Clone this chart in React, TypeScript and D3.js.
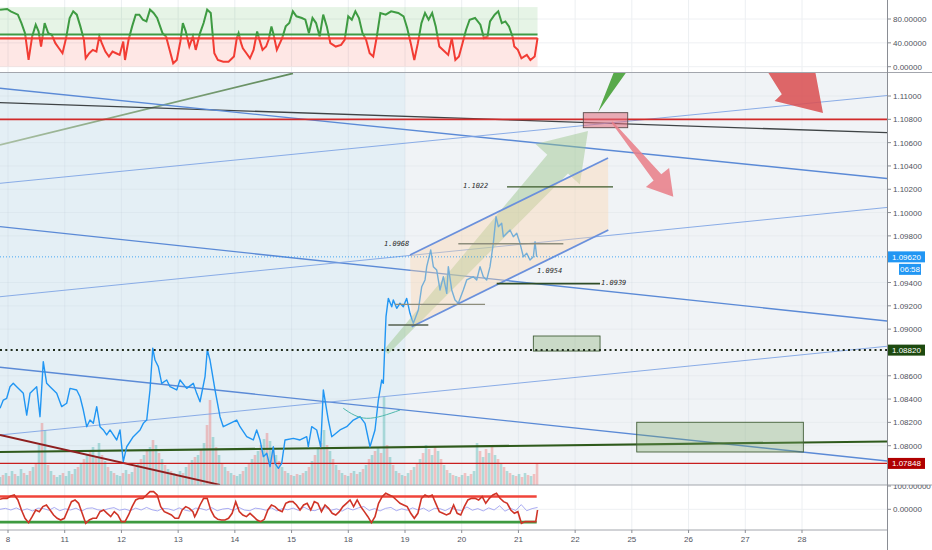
import React from 'react';
import * as d3 from 'd3';

// ---- time axis (trading-day index) ----
const dayLabels = ['8', '11', '12', '13', '14', '15', '18', '19', '20', '21', '22', '25', '26', '27', '28'];

// ---- price scale ----
const priceTicks = d3.range(17).map((i) => 1.078 + i * 0.002);
const topTicks = [0, 40, 80];
const bottomTicks = [0, 100];

const lastPrice = 1.0962;
const lastTimeLabel = '06:58';
const supportLevel = 1.0882;
const lowLevel = 1.07848;
const resistanceLevel = 1.108;
const sessionStart = 7.0;

// ---- price series [day, price] ----
const priceSeries: [number, number][] = [
  [-0.141, 1.08321], [-0.083, 1.08392], [-0.023, 1.08407], [0.035, 1.08506], [0.093, 1.08535], [0.153, 1.08506],
  [0.212, 1.08478], [0.27, 1.08449], [0.33, 1.08263], [0.388, 1.08449], [0.446, 1.08478], [0.506, 1.08506],
  [0.564, 1.08249], [0.622, 1.08721], [0.682, 1.08535], [0.741, 1.08506], [0.859, 1.08449], [0.947, 1.08335],
  [1.035, 1.08364], [1.093, 1.08492], [1.211, 1.08478], [1.27, 1.0842], [1.328, 1.08306], [1.388, 1.08163],
  [1.446, 1.0822], [1.504, 1.08192], [1.564, 1.08335], [1.622, 1.08163], [1.681, 1.08135], [1.74, 1.08092],
  [1.799, 1.08135], [1.917, 1.08049], [1.975, 1.08135], [2.033, 1.07863], [2.093, 1.07991], [2.209, 1.08077],
  [2.328, 1.08135], [2.386, 1.08192], [2.446, 1.0822], [2.504, 1.08478], [2.552, 1.08836], [2.592, 1.08735],
  [2.65, 1.08678], [2.71, 1.08535], [2.798, 1.08564], [2.857, 1.08506], [2.975, 1.08478], [3.033, 1.08564],
  [3.151, 1.08492], [3.267, 1.08535], [3.327, 1.08449], [3.386, 1.08377], [3.474, 1.08592], [3.514, 1.08821],
  [3.562, 1.08735], [3.65, 1.08478], [3.738, 1.08249], [3.796, 1.08163], [3.915, 1.08192], [4.033, 1.0822],
  [4.091, 1.08163], [4.209, 1.08077], [4.325, 1.08049], [4.385, 1.08135], [4.444, 1.08049], [4.502, 1.07906],
  [4.562, 1.07935], [4.62, 1.0782], [4.678, 1.07991], [4.708, 1.07849], [4.767, 1.07806], [4.826, 1.07849],
  [4.884, 1.08049], [5.031, 1.08063], [5.149, 1.08049], [5.267, 1.08077], [5.295, 1.07991], [5.355, 1.08163],
  [5.443, 1.08135], [5.514, 1.07991], [5.56, 1.08478], [5.648, 1.0822], [5.708, 1.08077], [5.854, 1.08135],
  [5.972, 1.08163], [6.089, 1.0822], [6.207, 1.08249], [6.295, 1.08192], [6.383, 1.07991], [6.471, 1.08135],
  [6.53, 1.08392], [6.59, 1.08564], [6.618, 1.08535], [6.648, 1.08907], [6.665, 1.09107], [6.706, 1.09264],
  [6.766, 1.09192], [6.794, 1.0925], [6.854, 1.09179], [6.912, 1.09222], [6.97, 1.09192], [7.03, 1.09264],
  [7.088, 1.09136], [7.147, 1.0905], [7.235, 1.09164], [7.295, 1.09364], [7.353, 1.09422], [7.383, 1.09536],
  [7.454, 1.09679], [7.5, 1.09536], [7.559, 1.09507], [7.617, 1.09336], [7.676, 1.0945], [7.736, 1.09307],
  [7.764, 1.09536], [7.824, 1.09336], [7.882, 1.0925], [7.94, 1.09222], [8.028, 1.09336], [8.088, 1.09422],
  [8.205, 1.0945], [8.265, 1.09422], [8.323, 1.09536], [8.381, 1.0945], [8.441, 1.09422], [8.499, 1.09536],
  [8.557, 1.09736], [8.605, 1.09965], [8.646, 1.09879], [8.705, 1.09908], [8.734, 1.09793], [8.794, 1.09822],
  [8.852, 1.0985], [8.91, 1.09793], [8.97, 1.09822], [9.028, 1.09736], [9.087, 1.09621], [9.146, 1.09651],
  [9.204, 1.09593], [9.263, 1.09621], [9.293, 1.0975], [9.322, 1.0962],
];

// ---- volume (positive = up bar, negative = down bar) ----
const volumeStart = -0.141;
const volumeStep = 0.0529;
const volumes = [
  8, -10, 12, -9, 14, -11, 9, 16, -12, 10,
  -14, 18, -22, 40, -62, 55, -20, 14, -10, 8,
  10, -12, 9, 14, -11, 16, -18, 22, -26, 30,
  -34, 38, -28, 42, -30, 24, -18, 14, -12, 10,
  9, -12, 15, -11, 13, -18, 22, -26, 30, -34,
  38, -45, 40, -32, 26, -20, 16, -14, 12, -10,
  14, -12, 18, -22, 25, -28, 30, -36, 42, -60,
  -85, 48, -38, 30, -22, 18, -14, 12, -10, 9,
  11, -14, 18, -22, 26, -30, 34, -40, 46, -52,
  44, -38, 30, -24, 18, -14, 12, -10, 9, -11,
  10, -12, 14, -18, 24, -30, 36, -42, 55, -40,
  34, -26, 20, -15, 12, -10, 9, -12, 14, -11,
  13, -16, 20, -26, 30, -34, 38, -32, 88, -40,
  28, -20, 14, -12, 10, -9, 12, -15, 18, -22,
  26, -32, 40, -36, 30, -38, 34, -26, 20, -15,
  12, -10, 9, -8, 10, -12, 9, -11, 14, 42,
  -34, 28, -36, 32, -38, 30, -26, 22, -18, 14,
  -12, 10, -9, 11, -8, 12, -10, 9, -11, -22,
];

// ---- upper oscillator [day, value] ----
const rsiUpper = 54;
const rsiLower = 47.5;
const rsiSeries: [number, number][] = [
  [-0.141, 95.7], [-0.015, 96.8], [0.048, 92.9], [0.174, 87.3], [0.237, 73.2], [0.3, 56.3], [0.363, 11.3],
  [0.426, 50.7], [0.489, 70.4], [0.539, 59.2], [0.583, 33.8], [0.646, 73.2], [0.709, 56.3], [0.772, 53.5],
  [0.835, 39.5], [0.898, 31.0], [0.961, 22.6], [1.024, 47.9], [1.087, 81.7], [1.15, 92.9], [1.213, 87.3],
  [1.276, 67.6], [1.339, 45.1], [1.37, 14.1], [1.433, 22.6], [1.496, 28.2], [1.559, 25.4], [1.61, 50.7],
  [1.654, 39.5], [1.717, 25.4], [1.78, 17.0], [1.843, 25.4], [1.906, 22.6], [1.969, 19.8], [2.032, 42.3],
  [2.063, 11.3], [2.126, 45.1], [2.189, 67.6], [2.252, 87.3], [2.315, 87.3], [2.378, 78.8], [2.441, 76.0],
  [2.504, 95.7], [2.567, 90.1], [2.63, 81.7], [2.724, 56.3], [2.787, 50.7], [2.85, 28.2], [2.913, 5.7],
  [2.976, 11.3], [3.039, 42.3], [3.083, 73.2], [3.134, 59.2], [3.197, 33.8], [3.26, 50.7], [3.31, 28.2],
  [3.386, 56.3], [3.449, 73.2], [3.512, 95.7], [3.575, 90.1], [3.638, 22.6], [3.7, 11.3], [3.795, 8.5],
  [3.889, 8.5], [3.984, 17.0], [4.034, 47.9], [4.066, 56.3], [4.11, 39.5], [4.141, 31.0], [4.204, 22.6],
  [4.267, 14.1], [4.33, 28.2], [4.393, 59.2], [4.425, 47.9], [4.488, 28.2], [4.551, 33.8], [4.595, 45.1],
  [4.645, 67.6], [4.677, 56.3], [4.74, 28.2], [4.834, 47.9], [4.897, 67.6], [4.96, 73.2], [5.023, 92.9],
  [5.086, 84.5], [5.181, 81.7], [5.243, 78.8], [5.306, 56.3], [5.369, 81.7], [5.432, 73.2], [5.495, 50.7],
  [5.558, 87.3], [5.621, 67.6], [5.684, 39.5], [5.779, 33.8], [5.873, 36.6], [5.936, 45.1], [5.999, 84.5],
  [6.062, 78.8], [6.125, 92.9], [6.188, 81.7], [6.251, 56.3], [6.314, 45.1], [6.377, 22.6], [6.44, 17.0],
  [6.503, 50.7], [6.566, 90.1], [6.66, 87.3], [6.755, 92.9], [6.881, 90.1], [6.975, 84.5], [7.038, 64.8],
  [7.101, 39.5], [7.164, 11.3], [7.227, 39.5], [7.29, 73.2], [7.353, 90.1], [7.416, 78.8], [7.479, 90.1],
  [7.542, 67.6], [7.605, 33.8], [7.699, 25.4], [7.762, 19.8], [7.825, 47.9], [7.888, 11.3], [7.951, 17.0],
  [8.014, 39.5], [8.077, 62.0], [8.14, 78.8], [8.235, 81.7], [8.329, 70.4], [8.392, 47.9], [8.455, 50.7],
  [8.499, 76.0], [8.581, 87.3], [8.644, 92.9], [8.707, 73.2], [8.77, 76.0], [8.833, 67.6], [8.896, 50.7],
  [8.927, 33.8], [8.99, 28.2], [9.053, 14.1], [9.148, 19.8], [9.211, 11.3], [9.286, 17.0], [9.337, 47.9],
];

// ---- lower oscillator [day, value] ----
const oscUpper = 55;
const oscLower = -55;
const oscSeries: [number, number][] = [
  [-0.141, 42.8], [-0.078, 47.1], [-0.015, 47.1], [0.048, 57.1], [0.111, 61.4], [0.174, 40.0], [0.237, -3.0],
  [0.3, -38.7], [0.363, -57.3], [0.426, -31.6], [0.489, -3.0], [0.552, -10.1], [0.615, 11.4], [0.678, 18.5],
  [0.741, -3.0], [0.804, -24.4], [0.867, -38.7], [0.93, -45.9], [0.993, -38.7], [1.056, -3.0], [1.119, 32.8],
  [1.182, 40.0], [1.245, 25.7], [1.308, -17.3], [1.37, -60.2], [1.433, -45.9], [1.496, -38.7], [1.559, -38.7],
  [1.622, -10.1], [1.685, -3.0], [1.748, -17.3], [1.811, -31.6], [1.874, -10.1], [1.937, -24.4], [2.0, -53.0],
  [2.063, -53.0], [2.126, -24.4], [2.189, 11.4], [2.252, 40.0], [2.315, 47.1], [2.378, 47.1], [2.441, 61.4],
  [2.504, 75.7], [2.567, 75.7], [2.63, 61.4], [2.693, 11.4], [2.756, -10.1], [2.819, -17.3], [2.882, -24.4],
  [2.945, -38.7], [3.008, -38.7], [3.071, -3.0], [3.134, 11.4], [3.197, 4.2], [3.26, -10.1], [3.291, -31.6],
  [3.323, -17.3], [3.386, 18.5], [3.449, 47.1], [3.512, 47.1], [3.575, -3.0], [3.638, -31.6], [3.7, -43.0],
  [3.763, -45.9], [3.826, -45.9], [3.889, -38.7], [3.952, -17.3], [4.015, 32.8], [4.047, 11.4], [4.078, -10.1],
  [4.141, -24.4], [4.204, -31.6], [4.267, -17.3], [4.33, -31.6], [4.393, -45.9], [4.456, -53.0], [4.519, -43.0],
  [4.582, -3.0], [4.645, 18.5], [4.708, 11.4], [4.771, -3.0], [4.834, -10.1], [4.897, 25.7], [4.96, 32.8],
  [5.023, 32.8], [5.086, 18.5], [5.149, -3.0], [5.212, 18.5], [5.275, 25.7], [5.338, -3.0], [5.401, 32.8],
  [5.464, 25.7], [5.527, -10.1], [5.59, 18.5], [5.653, 4.2], [5.716, -17.3], [5.779, -24.4], [5.842, -10.1],
  [5.905, 11.4], [5.968, 25.7], [6.031, 40.0], [6.094, 11.4], [6.157, 40.0], [6.22, 11.4], [6.283, -10.1],
  [6.346, -31.6], [6.408, -57.3], [6.471, -31.6], [6.534, 25.7], [6.597, 54.3], [6.66, 68.6], [6.723, 61.4],
  [6.786, 54.3], [6.849, 40.0], [6.912, 25.7], [6.975, 18.5], [7.038, 11.4], [7.101, -17.3], [7.164, -38.7],
  [7.227, -17.3], [7.29, 47.1], [7.353, 61.4], [7.416, 54.3], [7.479, 61.4], [7.542, 25.7], [7.605, -10.1],
  [7.668, -17.3], [7.731, -24.4], [7.794, -17.3], [7.857, 18.5], [7.92, -17.3], [7.983, -24.4], [8.046, 11.4],
  [8.109, 40.0], [8.172, 47.1], [8.235, 47.1], [8.298, 40.0], [8.361, 54.3], [8.424, 25.7], [8.487, 47.1],
  [8.55, 61.4], [8.613, 68.6], [8.676, 47.1], [8.739, 32.8], [8.802, 25.7], [8.865, -3.0], [8.928, -17.3],
  [8.99, -10.1], [9.053, -60.2], [9.116, -53.0], [9.179, -53.0], [9.242, -53.0], [9.305, -53.0], [9.337, -3.0],
];

// signal line of the lower oscillator, evenly spaced samples
const signalStart = -0.141;
const signalEnd = 9.337;
const oscSignal = [
  0, 4, -3, 6, -5, 2, -7, 5, 3, -4, 8, -6, 2, -3, 5, -8, 4, 6, -2, -5,
  3, 7, -4, 1, -6, 5, -3, 8, -2, -7, 4, 2, -5, 6, -3, -8, 5, 3, -4, 7,
  -6, 1, 4, -5, 8, -3, -6, 5, 2, -4, 6, -7, 3, -2, 5, -5, 9, -3, -6, 4,
  7, -4, 2, -8, 5, -3, 6, 12, -5, 3, -7, 4, 8, -6, 2, -4, 6, -3, 5, -9,
  4, 3, -6, 7, -2, -5, 10, -4, 3, -7, 6, -3, 15, -8, 4, -5, 20, -6, 3, 8,
];

// ---- drawings on the price pane (day, price) ----
type Seg = { id: string; a: [number, number]; b: [number, number] };
const trendLines: Seg[] = [
  { id: 'olive', a: [-0.141, 1.1058], b: [5.025, 1.11195] },
  { id: 'darkDesc', a: [-0.141, 1.10943], b: [15.5, 1.10685] },
  { id: 'blueDesc1', a: [-0.141, 1.11066], b: [15.5, 1.10292] },
  { id: 'thinAsc1', a: [-0.141, 1.10251], b: [15.5, 1.11004] },
  { id: 'blueDesc2', a: [-0.141, 1.09879], b: [15.5, 1.0907] },
  { id: 'thinAsc2', a: [-0.141, 1.09278], b: [15.5, 1.10044] },
  { id: 'blueDesc3', a: [-0.141, 1.08673], b: [15.5, 1.07869] },
  { id: 'thinAsc3', a: [-0.141, 1.08092], b: [15.5, 1.08853] },
  { id: 'greenBase', a: [-0.141, 1.07946], b: [15.5, 1.08036] },
  { id: 'redDesc', a: [-0.141, 1.08092], b: [3.738, 1.07663] },
];

const channelUpper: [number, number][] = [[7.088, 1.09636], [10.58, 1.10468]];
const channelLower: [number, number][] = [[7.118, 1.09021], [10.585, 1.0985]];

const levelSegments = [
  { id: 'lvl1022', price: 1.1022, t0: 8.799, t1: 10.668 },
  { id: 'lvlMid', price: 1.09733, t0: 7.94, t1: 9.792 },
  { id: 'lvl0939', price: 1.0939, t0: 8.617, t1: 10.439 },
  { id: 'lvlRange', price: 1.09213, t0: 6.824, t1: 8.411 },
  { id: 'lvlBase', price: 1.09035, t0: 6.706, t1: 7.411 },
];

const priceNotes = [
  { text: '1.1022', t: 8.023, price: 1.1022 },
  { text: '1.0968', t: 6.63, price: 1.0968 },
  { text: '1.0954', t: 9.328, price: 1.0954 },
  { text: '1.0939', t: 10.457, price: 1.0939 },
];

const zones = [
  { id: 'zoneA', t0: 9.263, t1: 10.439, p0: 1.08941, p1: 1.08812 },
  { id: 'zoneB', t0: 11.086, t1: 14.024, p0: 1.08201, p1: 1.07946 },
  { id: 'target', t0: 10.144, t1: 10.927, p0: 1.10857, p1: 1.10728 },
];

const arrows = [
  { id: 'bull', from: [6.665, 1.08804], to: [10.227, 1.107] },
  { id: 'up', from: [10.404, 1.10863], to: [11.285, 1.11652] },
  { id: 'down', from: [10.651, 1.10777], to: [11.731, 1.10136] },
  { id: 'bear', from: [12.819, 1.11652], to: [14.371, 1.10854] },
];

const arcPoints: [number, number][] = [[5.912, 1.08321], [6.325, 1.08235], [6.912, 1.08306]];

// ---- styles ----
const lineStyle: Record<string, { stroke: string; w: number; op?: number }> = {
  olive: { stroke: 'url(#oliveFade)', w: 1.8 },
  darkDesc: { stroke: '#3f4446', w: 1.3 },
  blueDesc1: { stroke: '#5b8ad6', w: 1.4 },
  thinAsc1: { stroke: '#7ea4e4', w: 0.9 },
  blueDesc2: { stroke: '#5b8ad6', w: 1.4 },
  thinAsc2: { stroke: '#7ea4e4', w: 0.9 },
  blueDesc3: { stroke: '#5b8ad6', w: 1.4 },
  thinAsc3: { stroke: '#7ea4e4', w: 0.9 },
  greenBase: { stroke: '#2f5a1c', w: 2.2 },
  redDesc: { stroke: '#8e1f1f', w: 1.8 },
  lvl1022: { stroke: '#3b5a2a', w: 1.4 },
  lvlMid: { stroke: '#8d8d7c', w: 1.4 },
  lvl0939: { stroke: '#2f4d26', w: 1.8 },
  lvlRange: { stroke: '#8d8d7c', w: 1.2 },
  lvlBase: { stroke: '#55604f', w: 1.4 },
};

const noteOffset: Record<string, number> = { '1.1022': 1, '1.0968': -4, '1.0954': 6.5, '1.0939': 1.8 };

const zoneStyle: Record<string, { fill: string; stroke: string }> = {
  zoneA: { fill: 'rgba(120,165,100,0.32)', stroke: '#44603a' },
  zoneB: { fill: 'rgba(120,165,100,0.32)', stroke: '#44603a' },
  target: { fill: 'rgba(226,110,125,0.55)', stroke: '#5a4a4a' },
};

const arrowStyle: Record<string, { fill: string; tail: number; shaft: number; head: number; headLen: number }> = {
  bull: { fill: 'rgba(150,195,135,0.45)', tail: 3, shaft: 14, head: 30, headLen: 45 },
  up: { fill: '#58a94b', tail: 0, shaft: 9, head: 18, headLen: 30 },
  down: { fill: 'rgba(232,128,138,0.88)', tail: 1, shaft: 5, head: 15, headLen: 25 },
  bear: { fill: 'rgba(218,82,84,0.88)', tail: 0, shaft: 17, head: 27, headLen: 42 },
};

function arrowPath(x0: number, y0: number, x1: number, y1: number, s: { tail: number; shaft: number; head: number; headLen: number }) {
  const dx = x1 - x0;
  const dy = y1 - y0;
  const L = Math.hypot(dx, dy);
  const ux = dx / L, uy = dy / L, nx = -uy, ny = ux;
  const bx = x1 - ux * s.headLen, by = y1 - uy * s.headLen;
  const pts = [
    [x0 + nx * s.tail, y0 + ny * s.tail],
    [bx + nx * s.shaft, by + ny * s.shaft],
    [bx + nx * s.head, by + ny * s.head],
    [x1, y1],
    [bx - nx * s.head, by - ny * s.head],
    [bx - nx * s.shaft, by - ny * s.shaft],
    [x0 - nx * s.tail, y0 - ny * s.tail],
  ];
  return 'M' + pts.map((p) => `${p[0].toFixed(1)},${p[1].toFixed(1)}`).join('L') + 'Z';
}

export default function App() {
  const W = 932;
  const H = 550;
  const axisX = 887;
  const topBottom = 72.5;
  const mainBottom = 485;
  const botBottom = 530;

  const x = d3.scaleLinear().domain([0, 14]).range([8, 802]);
  const y = d3.scaleLinear().domain([1.08, 1.11]).range([445.7, 96]);
  const yTop = d3.scaleLinear().domain([0, 80]).range([66.7, 19]);
  const yBot = d3.scaleLinear().domain([0, 100]).range([509.3, 486]);
  const yVol = d3.scaleLinear().domain([0, 100]).range([mainBottom, mainBottom - 100]);
  const fmt = d3.format('.5f');

  const dataEnd = x(priceSeries[priceSeries.length - 1][0]);
  const rsiEnd = x(rsiSeries[rsiSeries.length - 1][0]);

  const priceLine = d3.line<[number, number]>().x((d) => x(d[0])).y((d) => y(d[1]));
  const rsiLine = d3.line<[number, number]>().x((d) => x(d[0])).y((d) => yTop(d[1]));
  const oscLine = d3.line<[number, number]>().x((d) => x(d[0])).y((d) => yBot(d[1]));
  const sigStep = (signalEnd - signalStart) / (oscSignal.length - 1);
  const sigLine = d3.line<number>().x((_, i) => x(signalStart + i * sigStep)).y((d) => yBot(d));
  const arcLine = d3.line<[number, number]>().x((d) => x(d[0])).y((d) => y(d[1])).curve(d3.curveNatural);

  const splitY = (yTop(rsiUpper) + yTop(rsiLower)) / 2;
  const font = "'Liberation Sans', Arial, sans-serif";
  const axisColor = '#50535e';

  const badges = [
    { price: lastPrice, fill: '#2196f3' },
    { price: supportLevel, fill: '#1d4a10' },
    { price: lowLevel, fill: '#b00000' },
  ];
  const visibleTicks = priceTicks.filter(
    (p) => y(p) > topBottom + 6 && y(p) < mainBottom - 6 && badges.every((b) => Math.abs(y(p) - y(b.price)) > 9)
  );

  const channelPoly =
    'M' +
    [channelUpper[0], channelUpper[1], channelLower[1], channelLower[0]]
      .map((p) => `${x(p[0])},${y(p[1])}`)
      .join('L') +
    'Z';

  const olive = trendLines[0];

  return (
    <svg width={W} height={H} style={{ display: 'block', position: 'absolute', left: 0, top: 0, background: '#fff' }}>
      <defs>
        <clipPath id="clipTop"><rect x={0} y={0} width={axisX} height={topBottom} /></clipPath>
        <clipPath id="clipAbove"><rect x={0} y={0} width={axisX} height={splitY} /></clipPath>
        <clipPath id="clipBelow"><rect x={0} y={splitY} width={axisX} height={topBottom - splitY} /></clipPath>
        <clipPath id="clipMain"><rect x={0} y={topBottom} width={axisX} height={mainBottom - topBottom} /></clipPath>
        <clipPath id="clipBot"><rect x={0} y={mainBottom} width={W} height={botBottom - mainBottom} /></clipPath>
        <linearGradient
          id="oliveFade"
          gradientUnits="userSpaceOnUse"
          x1={x(olive.a[0])}
          y1={y(olive.a[1])}
          x2={x(olive.b[0])}
          y2={y(olive.b[1])}
        >
          <stop offset="0" stopColor="#a9bfa3" />
          <stop offset="1" stopColor="#5f8a5a" />
        </linearGradient>
      </defs>

      {/* pane backgrounds */}
      <rect x={0} y={0} width={W} height={H} fill="#ffffff" />
      <rect x={0} y={topBottom} width={x(sessionStart)} height={mainBottom - topBottom} fill="#e4eff5" />
      <rect x={x(sessionStart)} y={topBottom} width={axisX - x(sessionStart)} height={mainBottom - topBottom} fill="#f0f3f6" />

      {/* vertical grid */}
      {dayLabels.map((_, i) => (
        <g key={'vg' + i}>
          <line x1={x(i)} x2={x(i)} y1={0} y2={topBottom} stroke="#eceff2" strokeWidth={1} />
          <line x1={x(i)} x2={x(i)} y1={topBottom} y2={mainBottom} stroke="rgba(160,175,190,0.12)" strokeWidth={1} />
          <line x1={x(i)} x2={x(i)} y1={mainBottom} y2={botBottom} stroke="#eceff2" strokeWidth={1} />
        </g>
      ))}
      {topTicks.map((v) => (
        <line key={'tg' + v} x1={0} x2={axisX} y1={yTop(v)} y2={yTop(v)} stroke="#eef0f3" />
      ))}
      <line x1={0} x2={axisX} y1={yBot(0)} y2={yBot(0)} stroke="#eef0f3" />

      {/* ---------- upper oscillator ---------- */}
      <g clipPath="url(#clipTop)">
        <rect x={0} y={yTop(100)} width={rsiEnd} height={yTop(rsiUpper) - yTop(100)} fill="rgba(76,175,80,0.14)" />
        <rect x={0} y={yTop(rsiLower)} width={rsiEnd} height={yTop(0) - yTop(rsiLower)} fill="rgba(244,67,54,0.13)" />
        <line x1={0} x2={rsiEnd} y1={yTop(rsiUpper)} y2={yTop(rsiUpper)} stroke="#3f9a45" strokeWidth={2.2} />
        <line x1={0} x2={rsiEnd} y1={yTop(rsiLower)} y2={yTop(rsiLower)} stroke="#f0443a" strokeWidth={2.2} />
        <path d={rsiLine(rsiSeries) || ''} fill="none" stroke="#3e9b42" strokeWidth={2} clipPath="url(#clipAbove)" />
        <path d={rsiLine(rsiSeries) || ''} fill="none" stroke="#f23c34" strokeWidth={2} clipPath="url(#clipBelow)" />
      </g>

      {/* ---------- price pane ---------- */}
      <g clipPath="url(#clipMain)">
        {visibleTicks.map((p) => (
          <line key={'hg' + p} x1={0} x2={axisX} y1={y(p)} y2={y(p)} stroke="rgba(160,175,190,0.1)" />
        ))}

        {/* volume */}
        {volumes.map((v, i) => {
          const t = volumeStart + i * volumeStep;
          const h = Math.abs(v);
          return (
            <rect
              key={'v' + i}
              x={x(t) - 1.3}
              y={yVol(h)}
              width={2.6}
              height={yVol(0) - yVol(h)}
              fill={v >= 0 ? 'rgba(38,166,154,0.32)' : 'rgba(239,83,80,0.32)'}
            />
          );
        })}

        {/* trend lines */}
        {trendLines.map((l) => {
          const s = lineStyle[l.id];
          return (
            <line
              key={l.id}
              x1={x(l.a[0])}
              y1={y(l.a[1])}
              x2={x(l.b[0])}
              y2={y(l.b[1])}
              stroke={s.stroke}
              strokeWidth={s.w}
              opacity={s.op ?? 1}
            />
          );
        })}
        <line x1={0} x2={axisX} y1={y(resistanceLevel)} y2={y(resistanceLevel)} stroke="#d12a2a" strokeWidth={1.8} />
        <line x1={0} x2={axisX} y1={y(lowLevel)} y2={y(lowLevel)} stroke="#c81e1e" strokeWidth={1.3} />

        {/* bullish projection arrow */}
        {arrows.filter((a) => a.id === 'bull').map((a) => (
          <path
            key={a.id}
            d={arrowPath(x(a.from[0]), y(a.from[1]), x(a.to[0]), y(a.to[1]), arrowStyle[a.id])}
            fill={arrowStyle[a.id].fill}
          />
        ))}

        {/* price */}
        <path d={priceLine(priceSeries) || ''} fill="none" stroke="#2196f3" strokeWidth={1.4} strokeLinejoin="round" />
        <path d={arcLine(arcPoints) || ''} fill="none" stroke="#4fb8ad" strokeWidth={1} />

        {/* rising channel */}
        <path d={channelPoly} fill="rgba(252,214,170,0.38)" />
        {[channelUpper, channelLower].map((c, i) => (
          <line key={'ch' + i} x1={x(c[0][0])} y1={y(c[0][1])} x2={x(c[1][0])} y2={y(c[1][1])} stroke="#6a90dc" strokeWidth={1.8} />
        ))}

        {/* level segments */}
        {levelSegments.map((s) => (
          <line
            key={s.id}
            x1={x(s.t0)}
            x2={x(s.t1)}
            y1={y(s.price)}
            y2={y(s.price)}
            stroke={lineStyle[s.id].stroke}
            strokeWidth={lineStyle[s.id].w}
          />
        ))}

        {/* zones */}
        {zones.map((z) => (
          <rect
            key={z.id}
            x={x(z.t0)}
            y={y(z.p0)}
            width={x(z.t1) - x(z.t0)}
            height={y(z.p1) - y(z.p0)}
            fill={zoneStyle[z.id].fill}
            stroke={zoneStyle[z.id].stroke}
            strokeWidth={0.9}
          />
        ))}

        {/* dotted levels */}
        <line x1={0} x2={axisX} y1={y(lastPrice)} y2={y(lastPrice)} stroke="#2196f3" strokeWidth={0.8} strokeDasharray="1,2" />
        <line x1={0} x2={axisX} y1={y(supportLevel)} y2={y(supportLevel)} stroke="#1e2a1a" strokeWidth={2} strokeDasharray="2,3.3" />

        {/* directional arrows */}
        {arrows.filter((a) => a.id !== 'bull').map((a) => (
          <path
            key={a.id}
            d={arrowPath(x(a.from[0]), y(a.from[1]), x(a.to[0]), y(a.to[1]), arrowStyle[a.id])}
            fill={arrowStyle[a.id].fill}
          />
        ))}

        {/* price notes */}
        {priceNotes.map((n) => (
          <text
            key={n.text}
            x={x(n.t)}
            y={y(n.price) + noteOffset[n.text]}
            fontFamily="'DejaVu Sans Mono', 'Liberation Mono', monospace"
            fontStyle="italic"
            fontSize={7}
            fill="#2a2a2a"
          >
            {n.text}
          </text>
        ))}
      </g>

      {/* ---------- lower oscillator ---------- */}
      <g clipPath="url(#clipBot)">
        <line x1={0} x2={dataEnd} y1={yBot(oscUpper)} y2={yBot(oscUpper)} stroke="#f0443a" strokeWidth={2.6} />
        <line x1={0} x2={dataEnd} y1={yBot(oscLower)} y2={yBot(oscLower)} stroke="#3d9a40" strokeWidth={2.6} />
        <path d={sigLine(oscSignal) || ''} fill="none" stroke="#9a9cf0" strokeWidth={1} opacity={0.85} />
        <path d={oscLine(oscSeries) || ''} fill="none" stroke="#cf3427" strokeWidth={1.6} />
      </g>

      {/* pane separators and price axis */}
      <line x1={0} x2={W} y1={topBottom} y2={topBottom} stroke="#a3a6ad" strokeWidth={1} />
      <line x1={0} x2={W} y1={mainBottom} y2={mainBottom} stroke="#a3a6ad" strokeWidth={1} />
      <line x1={0} x2={axisX} y1={botBottom} y2={botBottom} stroke="#a3a6ad" strokeWidth={1} />
      <line x1={axisX + 0.5} x2={axisX + 0.5} y1={0} y2={H} stroke="#8a8d94" strokeWidth={1} />

      {/* right axis labels */}
      {topTicks.map((v) => (
        <g key={'tt' + v}>
          <line x1={axisX} x2={axisX + 4} y1={yTop(v)} y2={yTop(v)} stroke="#8a8d94" />
          <text x={axisX + 6} y={yTop(v) + 3} fontFamily={font} fontSize={8} fill={axisColor}>{fmt(v)}</text>
        </g>
      ))}
      {visibleTicks.map((p) => (
        <g key={'pt' + p}>
          <line x1={axisX} x2={axisX + 4} y1={y(p)} y2={y(p)} stroke="#8a8d94" />
          <text x={axisX + 6} y={y(p) + 3} fontFamily={font} fontSize={8} fill={axisColor}>{fmt(p)}</text>
        </g>
      ))}
      <g clipPath="url(#clipBot)">
        {bottomTicks.map((v) => (
          <g key={'bt' + v}>
            <line x1={axisX} x2={axisX + 4} y1={yBot(v)} y2={yBot(v)} stroke="#8a8d94" />
            <text x={axisX + 6} y={yBot(v) + 3} fontFamily={font} fontSize={8} fill={axisColor}>{fmt(v)}</text>
          </g>
        ))}
      </g>

      {/* price badges */}
      {badges.map((b) => (
        <g key={'b' + b.price}>
          <rect x={axisX + 1} y={y(b.price) - 5.5} width={37} height={11} fill={b.fill} />
          <text x={axisX + 5} y={y(b.price) + 3} fontFamily={font} fontSize={8} fill="#ffffff">{fmt(b.price)}</text>
        </g>
      ))}
      <rect x={axisX + 12} y={y(lastPrice) + 7} width={22} height={11} fill="#2196f3" />
      <text x={axisX + 23} y={y(lastPrice) + 15.5} textAnchor="middle" fontFamily={font} fontSize={8} fill="#ffffff">{lastTimeLabel}</text>

      {/* time axis */}
      {dayLabels.map((d, i) => (
        <g key={'xl' + i}>
          <line x1={x(i)} x2={x(i)} y1={botBottom} y2={botBottom + 3} stroke="#8a8d94" />
          <text x={x(i)} y={542} textAnchor="middle" fontFamily={font} fontSize={8} fill={axisColor}>{d}</text>
        </g>
      ))}
    </svg>
  );
}
